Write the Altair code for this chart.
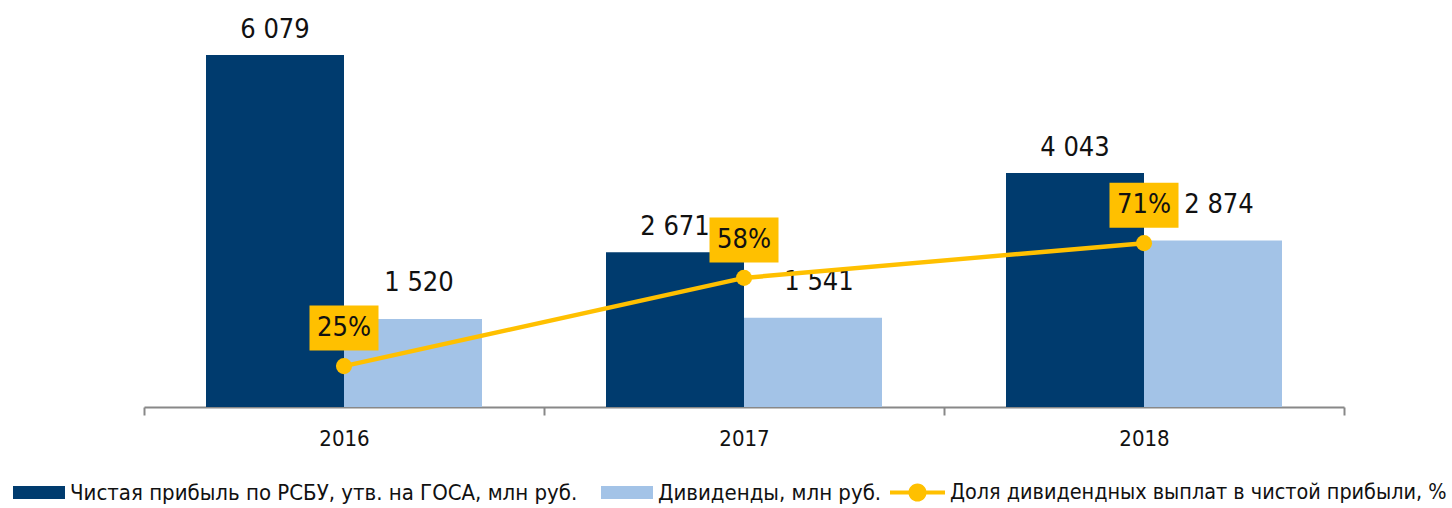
import altair as alt
import pandas as pd

years = ["2016", "2017", "2018"]
profit = [6079, 2671, 4043]
dividends = [1520, 1541, 2874]
share = [25, 58, 71]

s_profit = "Чистая прибыль по РСБУ, утв. на ГОСА, млн руб."
s_div = "Дивиденды, млн руб."
s_share = "Доля дивидендных выплат в чистой прибыли, %"

FONT = "DejaVu Sans Condensed"
DARK = "#003B6E"
LIGHT = "#A3C3E7"
YEL = "#FFC000"
TXT = "#111111"


def fmt(v):
    return f"{v:,}".replace(",", " ")


rows = []
for y, p, d in zip(years, profit, dividends):
    rows.append({"year": y, "series": s_profit, "value": p, "label": fmt(p)})
    rows.append({"year": y, "series": s_div, "value": d, "label": fmt(d)})
bars_df = pd.DataFrame(rows)

line_df = pd.DataFrame({
    "year": years,
    "share": share,
    "label": [f"{s}%" for s in share],
    "lg": [s_share] * len(years),
})

xscale = alt.Scale(paddingInner=0, paddingOuter=0)
xenc = alt.X(
    "year:N",
    scale=xscale,
    title=None,
    axis=alt.Axis(
        labelAngle=0,
        tickBand="extent",
        domainColor="#888888",
        domainWidth=2,
        tickColor="#888888",
        tickWidth=2,
        tickSize=8,
        labelFontSize=22,
        labelColor=TXT,
        labelPadding=13,
        labelFont=FONT,
    ),
)
xoff = alt.XOffset("series:N", sort=[s_profit, s_div],
                   scale=alt.Scale(paddingInner=0, paddingOuter=0.4493))
yval = alt.Y("value:Q", axis=None, scale=alt.Scale(domain=[0, 6684], nice=False, zero=True))

bar_path = "M-1,-0.25H1V0.25H-1Z"
bars = alt.Chart(bars_df).mark_bar().encode(
    x=xenc,
    xOffset=xoff,
    y=yval,
    color=alt.Color(
        "series:N",
        sort=[s_profit, s_div],
        scale=alt.Scale(domain=[s_profit, s_div], range=[DARK, LIGHT]),
        legend=alt.Legend(
            title=None,
            orient="none",
            direction="horizontal",
            legendX=-131,
            legendY=446.5,
            symbolType=bar_path,
            symbolSize=52 * 52,
            symbolStrokeWidth=0,
            labelFontSize=22,
            labelFont=FONT,
            labelColor=TXT,
            labelOffset=5,
            columnPadding=23,
            padding=0,
            labelLimit=0,
        ),
    ),
)

dark_text = alt.Chart(bars_df).transform_filter(
    alt.datum.series == s_profit
).mark_text(fontSize=27, font=FONT, color=TXT, dy=-17, baseline="alphabetic").encode(
    x=alt.X("year:N", scale=xscale),
    xOffset=xoff,
    y=yval,
    text="label:N",
)

light_text = alt.Chart(bars_df).transform_filter(
    alt.datum.series == s_div
).mark_text(fontSize=27, font=FONT, color=TXT, dy=-28, dx=6, baseline="alphabetic").encode(
    x=alt.X("year:N", scale=xscale),
    xOffset=xoff,
    y=yval,
    text="label:N",
)

yshare = alt.Y("share:Q", axis=None, scale=alt.Scale(domain=[9.7, 154.5], nice=False, zero=False))

line = alt.Chart(line_df).mark_line(color=YEL, strokeWidth=4.5).encode(
    x=alt.X("year:N", scale=xscale),
    y=yshare,
)

leg_path = ("M-1,-0.075H1V0.075H-1Z "
            "M-0.33,0A0.33,0.33 0 1,1 0.33,0A0.33,0.33 0 1,1 -0.33,0Z")
points = alt.Chart(line_df).mark_circle(size=260, opacity=1).encode(
    x=alt.X("year:N", scale=xscale),
    y=yshare,
    fill=alt.Fill(
        "lg:N",
        scale=alt.Scale(range=[YEL]),
        legend=alt.Legend(
            title=None,
            orient="none",
            direction="horizontal",
            legendX=746,
            legendY=445,
            symbolType=leg_path,
            symbolSize=55 * 55,
            symbolStrokeWidth=0,
            symbolOpacity=1,
            labelFontSize=21.4,
            labelFont=FONT,
            labelColor=TXT,
            labelOffset=5,
            padding=0,
            labelLimit=0,
        ),
    ),
)

box_path = "M-1,-0.652H1V0.652H-1Z"
boxes = alt.Chart(line_df).mark_point(
    shape=box_path, size=69 * 69, filled=True, color=YEL, opacity=1, strokeWidth=0, yOffset=-38
).encode(
    x=alt.X("year:N", scale=xscale),
    y=yshare,
)

pct_text = alt.Chart(line_df).mark_text(
    fontSize=27, font=FONT, color=TXT, dy=-38, baseline="middle"
).encode(
    x=alt.X("year:N", scale=xscale),
    y=yshare,
    text="label:N",
)

left = alt.layer(bars, dark_text, light_text)
right = alt.layer(line, points, boxes, pct_text)

chart = alt.layer(left, right).resolve_scale(
    y="independent", color="independent", fill="independent"
).properties(
    width=1200,
    height=387,
    padding={"left": 144, "top": 20, "right": 108, "bottom": 101},
    autosize=alt.AutoSizeParams(type="none"),
).configure(font=FONT).configure_view(strokeWidth=0, strokeOpacity=0)

chart.save("out.html", embed_options={"renderer": "svg", "actions": False})
